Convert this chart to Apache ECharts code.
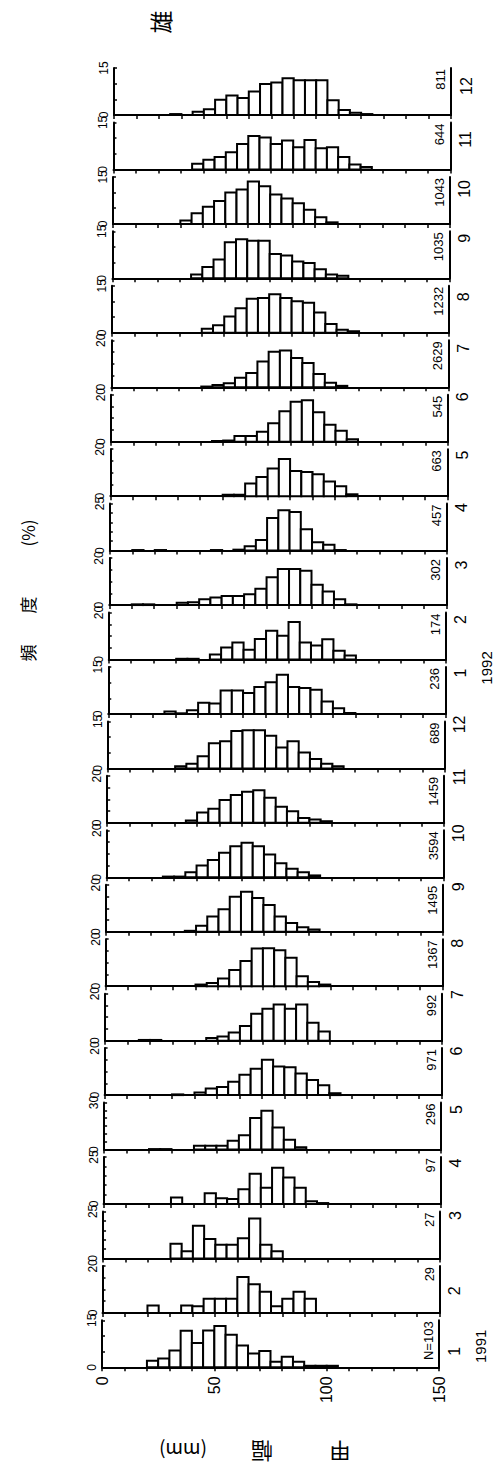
<!DOCTYPE html>
<html>
<head>
<meta charset="utf-8">
<script src="https://cdn.jsdelivr.net/npm/echarts@6/dist/echarts.min.js"></script>
<style>
  html, body { margin: 0; padding: 0; background: #fff; }
  #main { width: 498px; height: 1473px; }
</style>
</head>
<body>
<div id="main"></div>
<script>
// 甲幅の階級 (下限, mm) - 5 mm 幅
const binStart = [10, 15, 20, 25, 30, 35, 40, 45, 50, 55, 60, 65, 70, 75, 80, 85, 90, 95, 100, 105, 110];

// 頻度 (%) per month, one value per bin above
const f1991_01 = [0, 0, 2.1, 2.8, 5.4, 11.7, 7.8, 11.8, 13.2, 10.4, 7.0, 4.4, 5.2, 1.8, 3.4, 1.8, 0.5, 0.5, 0.5, 0, 0];
const f1991_02 = [0, 0, 3.2, 0, 0, 3.2, 2.8, 6.0, 6.0, 6.0, 15.3, 12.2, 9.0, 2.8, 6.0, 9.0, 6.0, 0, 0, 0, 0];
const f1991_03 = [0, 0, 0, 0, 7.8, 3.8, 17.4, 10.4, 7.3, 7.3, 10.8, 21.2, 7.3, 3.8, 0, 0, 0, 0, 0, 0, 0];
const f1991_04 = [0, 0, 0, 0, 3.5, 0, 0, 5.7, 3.1, 2.6, 7.8, 16.1, 8.7, 19.3, 14.1, 8.7, 1.4, 0.5, 0, 0, 0];
const f1991_05 = [0, 0, 0.3, 0.3, 0, 0, 2.5, 2.5, 2.5, 5.6, 9.2, 20.2, 24.8, 14.0, 6.2, 1.5, 0, 0, 0, 0, 0];
const f1991_06 = [0, 0, 0, 0, 0.3, 0, 1.1, 2.8, 3.5, 5.7, 8.7, 11.2, 15.0, 12.2, 11.8, 9.2, 6.4, 4.2, 0.8, 0, 0];
const f1991_07 = [0, 0.3, 0.3, 0, 0, 0, 0, 1.1, 1.8, 3.5, 6.2, 11.5, 13.6, 15.4, 13.6, 15.4, 7.6, 3.9, 0, 0, 0];
const f1991_08 = [0, 0, 0, 0, 0, 0, 0.7, 1.4, 3.3, 6.9, 10.7, 16.0, 16.2, 15.3, 12.1, 4.2, 1.8, 0.7, 0, 0, 0];
const f1991_09 = [0, 0, 0, 0, 0, 0.4, 2.6, 6.5, 9.6, 14.9, 17.0, 14.4, 11.4, 6.5, 3.7, 1.9, 1.0, 0, 0, 0, 0];
const f1991_10 = [0, 0, 0, 0.3, 0.3, 2.2, 5.0, 7.4, 10.4, 13.2, 14.7, 13.2, 9.7, 6.0, 3.6, 2.2, 0.8, 0, 0, 0, 0];
const f1991_11 = [0, 0, 0, 0, 0, 1.0, 4.4, 6.0, 9.7, 11.8, 13.2, 13.9, 10.7, 6.9, 4.9, 2.1, 1.4, 0.7, 0, 0, 0];
const f1991_12 = [0, 0, 0, 0, 0.7, 1.5, 3.9, 8.0, 8.7, 11.9, 12.2, 12.2, 10.4, 6.7, 8.7, 5.1, 3.0, 1.5, 0.7, 0, 0];
const f1992_01 = [0, 0, 0, 0.8, 0.2, 1.2, 3.6, 3.3, 7.5, 7.5, 6.7, 8.6, 10.1, 12.5, 8.6, 8.3, 7.7, 4.0, 1.8, 0.3, 0];
const f1992_02 = [0, 0, 0, 0, 0.3, 0.3, 0, 2.1, 5.1, 7.2, 4.2, 8.7, 12.2, 10.1, 16.0, 7.2, 6.0, 8.6, 3.7, 1.7, 0];
const f1992_03 = [0.3, 0.3, 0, 0, 1.0, 1.2, 2.5, 3.2, 3.9, 3.9, 4.6, 6.9, 11.8, 15.3, 15.3, 14.6, 8.6, 5.8, 2.5, 0.3, 0];
const f1992_04 = [0.3, 0, 0.3, 0, 0, 0, 0, 0.3, 0, 0.5, 2.3, 5.7, 17.4, 21.4, 20.5, 11.3, 4.5, 3.1, 0.3, 0, 0];
const f1992_05 = [0, 0, 0, 0, 0, 0, 0, 0, 0.6, 0.6, 5.4, 8.2, 11.8, 15.8, 10.7, 10.3, 9.3, 6.2, 4.2, 0.8, 0];
const f1992_06 = [0, 0, 0, 0, 0, 0, 0, 0.3, 0.5, 2.4, 2.4, 4.2, 7.9, 13.0, 17.0, 17.6, 12.5, 7.2, 4.7, 1.0, 0];
const f1992_07 = [0, 0, 0, 0, 0, 0, 0.3, 1.0, 1.7, 4.0, 6.1, 11.0, 15.1, 15.6, 12.4, 10.3, 5.6, 1.9, 0.6, 0, 0];
const f1992_08 = [0, 0, 0, 0, 0, 0, 1.3, 2.4, 5.2, 7.8, 10.9, 11.1, 12.3, 11.1, 10.1, 9.6, 6.5, 2.8, 1.0, 0.5, 0];
const f1992_09 = [0, 0, 0, 0, 0, 1.2, 3.6, 6.0, 11.5, 12.5, 12.0, 12.0, 7.8, 7.3, 5.4, 4.9, 2.9, 1.2, 0.8, 0, 0];
const f1992_10 = [0, 0, 0, 0, 1.1, 3.4, 5.5, 7.3, 10.0, 11.0, 13.5, 12.0, 9.4, 8.1, 6.6, 4.5, 2.1, 0.5, 0, 0, 0];
const f1992_11 = [0, 0, 0, 0, 0, 1.8, 3.1, 4.0, 5.5, 8.1, 10.7, 10.2, 8.1, 9.2, 7.1, 9.4, 6.8, 7.1, 4.0, 1.6, 0.8];
const f1992_12 = [0, 0, 0, 0.3, 0, 1.0, 1.8, 4.9, 6.2, 5.4, 7.5, 9.9, 10.4, 11.7, 11.1, 11.1, 11.1, 4.7, 1.6, 0.7, 0.3];

// chronological order, 1991-1 first (drawn at the bottom)
const panels = [f1991_01, f1991_02, f1991_03, f1991_04, f1991_05, f1991_06,
                f1991_07, f1991_08, f1991_09, f1991_10, f1991_11, f1991_12,
                f1992_01, f1992_02, f1992_03, f1992_04, f1992_05, f1992_06,
                f1992_07, f1992_08, f1992_09, f1992_10, f1992_11, f1992_12];
const months = [1, 2, 3, 4, 5, 6, 7, 8, 9, 10, 11, 12, 1, 2, 3, 4, 5, 6, 7, 8, 9, 10, 11, 12];
const sampleN = ['N=103', '29', '27', '97', '296', '971', '992', '1367', '1495', '3594', '1459', '689',
                 '236', '174', '302', '457', '663', '545', '2629', '1232', '1035', '1043', '644', '811'];
const yMax = [15, 20, 25, 25, 30, 20, 20, 20, 20, 20, 20, 15,
              15, 20, 20, 25, 20, 20, 20, 15, 15, 15, 15, 15];
const years = ['1991', '1992'];
const xLabels = [0, 50, 100, 150];

const BIN_W = 5;
const NUM = "'Liberation Sans', Arial, sans-serif";
const JP = "'Noto Sans CJK JP', 'Noto Sans CJK SC', sans-serif";

// layout: the scanned figure is slightly sheared, so the left edge drifts with the row
const TOP_BASE = 115;   // baseline of the top row
const STEP = 54.45;     // row pitch
const AXIS_H = 47;
const PLOT_W = 337;
const rowLeft = p => 114 - 12 * p / 23;
// month numbers were typeset a little unevenly; offset from each baseline, top row first
const monthDy = [-29, -30, -35, -40, -36, -39, -45, -41, -43, -40, -40, -41,
                 -44, -46, -44, -45, -43, -46, -44, -40, -41, -43, -22, -16];

const chart = echarts.init(document.getElementById('main'), null, {renderer: 'svg'});

const grids = [], xAxes = [], yAxes = [], series = [], graphics = [];

panels.forEach((vals, k) => {
    const p = 23 - k;                       // row counted from the top
    const base = TOP_BASE + STEP * p;
    const left = rowLeft(p);
    const max = yMax[k];

    grids.push({left: left, top: base - AXIS_H, width: PLOT_W, height: AXIS_H,
                containLabel: false, outerBoundsMode: 'none'});

    xAxes.push({
        gridIndex: k, type: 'value', min: 0, max: 150, interval: 10,
        axisLine: {show: true, onZero: false, lineStyle: {color: '#000', width: 2}},
        axisTick: {show: true, length: 4, lineStyle: {color: '#000', width: 1.5}},
        axisLabel: {show: false},
        splitLine: {show: false}
    });

    yAxes.push({
        gridIndex: k, type: 'value', min: 0, max: max, interval: 5, position: 'left',
        axisLine: {show: true, lineStyle: {color: '#000', width: 2}},
        axisTick: {show: true, inside: true, length: 3, lineStyle: {color: '#000', width: 1.5}},
        axisLabel: {
            show: true, rotate: 90, margin: 4, color: '#000',
            fontFamily: NUM, fontSize: 12,
            formatter: v => (v === 0 || v === max) ? String(v) : ''
        },
        splitLine: {show: false}
    });
    // right-hand frame line of each panel
    yAxes.push({
        gridIndex: k, type: 'value', min: 0, max: max, position: 'right',
        axisLine: {show: true, lineStyle: {color: '#000', width: 2}},
        axisTick: {show: false}, axisLabel: {show: false}, splitLine: {show: false}
    });

    const data = [];
    vals.forEach((v, i) => {
        if (v > 0) data.push([binStart[i], binStart[i] + BIN_W, v]);
    });

    series.push({
        type: 'custom', xAxisIndex: k, yAxisIndex: 2 * k,
        encode: {x: [0, 1], y: 2},
        data: data,
        renderItem: (params, api) => {
            const a = api.coord([api.value(0), api.value(2)]);
            const b = api.coord([api.value(1), 0]);
            return {
                type: 'rect',
                shape: {x: a[0], y: a[1], width: b[0] - a[0], height: b[1] - a[1]},
                style: {fill: '#fff', stroke: '#000', lineWidth: 2}
            };
        }
    });

    const border = left + PLOT_W;
    graphics.push({
        type: 'text', x: border - 4, y: base - AXIS_H + 1, rotation: Math.PI / 2,
        style: {text: sampleN[k], fontFamily: NUM, fontSize: 13, fill: '#000',
                align: 'right', verticalAlign: 'bottom'}
    });
    graphics.push({
        type: 'text', x: border + 15, y: base + monthDy[p], rotation: Math.PI / 2,
        style: {text: String(months[k]), fontFamily: NUM, fontSize: 16, fill: '#000',
                align: 'center', verticalAlign: 'middle'}
    });
    if (months[k] === 1) {
        graphics.push({
            type: 'text', x: border + 41, y: base + monthDy[p] - 5, rotation: Math.PI / 2,
            style: {text: years[k === 0 ? 0 : 1], fontFamily: NUM, fontSize: 15, fill: '#000',
                    align: 'center', verticalAlign: 'middle'}
        });
    }
});

// axis titles, set the same way as in the printed figure
graphics.push(
    {type: 'text', x: 160, y: 22, rotation: Math.PI / 2,
     style: {text: '雄', fontFamily: JP, fontSize: 23, fill: '#000', align: 'center', verticalAlign: 'middle'}},
    {type: 'text', x: 27, y: 653, rotation: Math.PI / 2,
     style: {text: '頻', fontFamily: JP, fontSize: 17, fill: '#000', align: 'center', verticalAlign: 'middle'}},
    {type: 'text', x: 27, y: 605, rotation: Math.PI / 2,
     style: {text: '度', fontFamily: JP, fontSize: 17, fill: '#000', align: 'center', verticalAlign: 'middle'}},
    {type: 'text', x: 27, y: 533, rotation: Math.PI / 2,
     style: {text: '(%)', fontFamily: JP, fontSize: 17, fill: '#000', align: 'center', verticalAlign: 'middle'}},
    {type: 'text', x: 340, y: 1453, rotation: Math.PI,
     style: {text: '甲', fontFamily: JP, fontSize: 22, fill: '#000', align: 'center', verticalAlign: 'middle'}},
    {type: 'text', x: 262, y: 1453, rotation: Math.PI,
     style: {text: '幅', fontFamily: JP, fontSize: 22, fill: '#000', align: 'center', verticalAlign: 'middle'}},
    {type: 'text', x: 183, y: 1451, rotation: Math.PI,
     style: {text: '(mm)', fontFamily: JP, fontSize: 19, fill: '#000', align: 'center', verticalAlign: 'middle'}}
);

chart.setOption({
    animation: false,
    backgroundColor: '#fff',
    grid: grids,
    xAxis: xAxes,
    yAxis: yAxes,
    series: series,
    graphic: graphics
});

// 甲幅 tick labels under the lowest panel, placed through its own x scale
xLabels.forEach(v => {
    const pt = chart.convertToPixel({xAxisIndex: 0, yAxisIndex: 0}, [v, 0]);
    graphics.push({
        type: 'text', x: pt[0], y: pt[1] + 9, rotation: Math.PI / 2,
        style: {text: String(v), fontFamily: NUM, fontSize: 16, fill: '#000',
                align: 'right', verticalAlign: 'middle'}
    });
});
chart.setOption({graphic: graphics});
</script>
</body>
</html>
